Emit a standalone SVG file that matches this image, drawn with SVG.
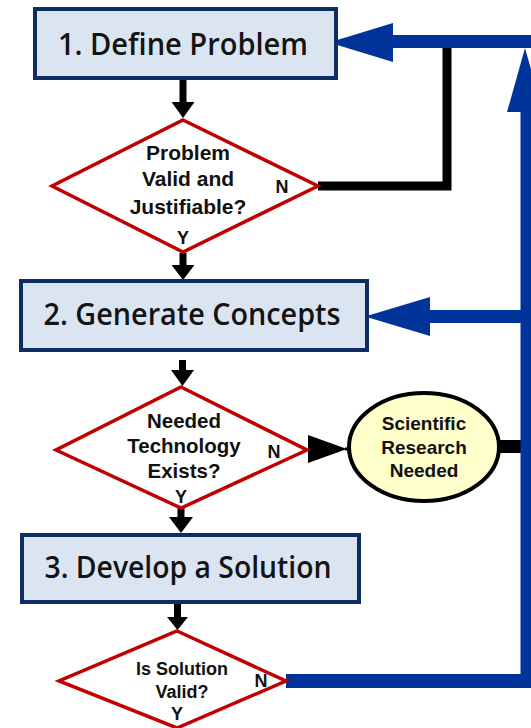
<svg xmlns="http://www.w3.org/2000/svg" width="531" height="728" viewBox="0 0 531 728">
<style>
.box{fill:#dbe5f1;stroke:#0e2d63;stroke-width:4}
.btxt{font-family:"Open Sans",Lato,"Liberation Sans",sans-serif;font-weight:600;font-size:31px;fill:#141414;text-anchor:middle}
.dia{fill:#ffffff;stroke:#c00000;stroke-width:3.5;stroke-linejoin:miter}
.dtxt{font-family:"Liberation Sans",Arial,sans-serif;font-weight:bold;font-size:20.5px;fill:#111;text-anchor:middle}
.lbl{font-family:"Liberation Sans",Arial,sans-serif;font-weight:bold;font-size:18px;fill:#111;text-anchor:middle}
.blk{fill:#000}
.blu{fill:#00349a}
</style>
<rect width="531" height="728" fill="#ffffff"/>
<g id="connectors">
  <rect class="blk" x="179.5" y="79" width="7" height="25"/>
  <polygon class="blk" points="171.5,102 194.5,102 183,118"/>
  <rect class="blk" x="179.5" y="253" width="7" height="14"/>
  <polygon class="blk" points="171.5,265 194.5,265 183,280"/>
  <rect class="blk" x="179" y="360" width="7" height="12"/>
  <polygon class="blk" points="171,370 194,370 182.5,386"/>
  <rect class="blk" x="177.5" y="508" width="7" height="11"/>
  <polygon class="blk" points="169,517 193,517 181,533"/>
  <rect class="blk" x="174" y="603" width="7" height="16"/>
  <polygon class="blk" points="167,617 188,617 177.5,630"/>
  <path d="M318,186 H447 V47" fill="none" stroke="#000" stroke-width="9" stroke-linejoin="miter"/>
  <polygon class="blk" points="308,435 308,463 347,449"/>
  <rect class="blk" x="345" y="447.5" width="7" height="3"/>
  <rect class="blk" x="499" y="440" width="23" height="13"/>
  <rect class="blu" x="390" y="35" width="141" height="13"/>
  <polygon class="blu" points="393,23 393,62 329,42.5"/>
  <rect class="blu" x="520.5" y="108" width="15" height="580"/>
  <polygon class="blu" points="507,112 543,112 525,48"/>
  <rect class="blu" x="428" y="310" width="96" height="13"/>
  <polygon class="blu" points="430,297 430,336 365,316.5"/>
  <rect class="blu" x="286" y="674" width="245" height="14"/>
</g>
<g id="define-problem">
  <rect class="box" x="35" y="9" width="301" height="69"/>
  <text class="btxt" x="183" y="55" textLength="250" lengthAdjust="spacingAndGlyphs">1. Define Problem</text>
</g>
<g id="problem-valid">
  <polygon class="dia" points="183,120 318,186 183,252 52,186"/>
  <text class="dtxt" x="188" y="160" style="font-size:21px">Problem</text>
  <text class="dtxt" x="188" y="186" style="font-size:21px">Valid and</text>
  <text class="dtxt" x="188" y="214" style="font-size:21px">Justifiable?</text>
  <text class="lbl" x="282" y="193">N</text>
  <text class="lbl" x="183" y="244">Y</text>
</g>
<g id="generate-concepts">
  <rect class="box" x="21" y="281" width="346" height="69"/>
  <text class="btxt" x="192" y="325" textLength="297" lengthAdjust="spacingAndGlyphs">2. Generate Concepts</text>
</g>
<g id="technology-exists">
  <polygon class="dia" points="181,387 307,450 181,508 56,450"/>
  <text class="dtxt" x="184" y="428">Needed</text>
  <text class="dtxt" x="184" y="453">Technology</text>
  <text class="dtxt" x="184" y="478">Exists?</text>
  <text class="lbl" x="274" y="458">N</text>
  <text class="lbl" x="181" y="503">Y</text>
</g>
<g id="scientific-research">
  <ellipse cx="424" cy="447" rx="75" ry="54" fill="#ffffcc" stroke="#000" stroke-width="4"/>
  <text class="dtxt" x="424" y="430" style="font-size:19px">Scientific</text>
  <text class="dtxt" x="424" y="454" style="font-size:19px">Research</text>
  <text class="dtxt" x="424" y="477" style="font-size:19px">Needed</text>
</g>
<g id="develop-solution">
  <rect class="box" x="22" y="535" width="337" height="67"/>
  <text class="btxt" x="188" y="578" textLength="287" lengthAdjust="spacingAndGlyphs">3. Develop a Solution</text>
</g>
<g id="solution-valid">
  <polygon class="dia" points="177,631 286,681 177,728 59,681"/>
  <text class="dtxt" x="182" y="675" style="font-size:18px">Is Solution</text>
  <text class="dtxt" x="182" y="698" style="font-size:18px">Valid?</text>
  <text class="lbl" x="261" y="687">N</text>
  <text class="lbl" x="177" y="720">Y</text>
</g>
</svg>
